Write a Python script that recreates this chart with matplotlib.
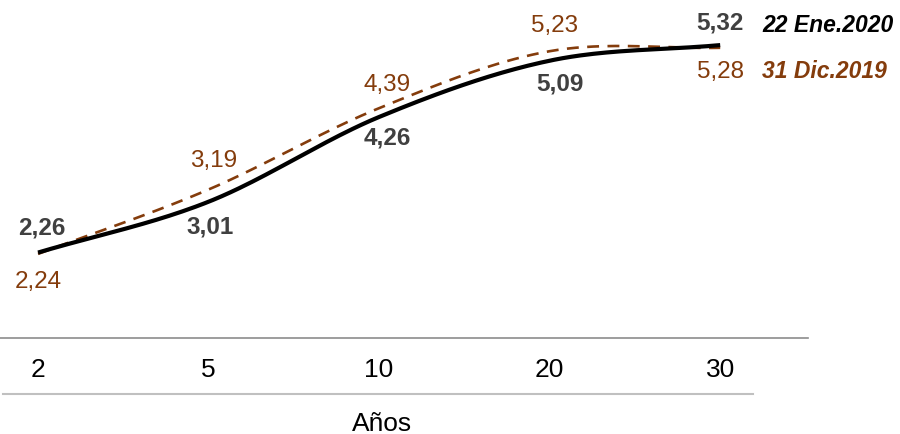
import numpy as np
import matplotlib
matplotlib.use("Agg")
import matplotlib.pyplot as plt
from matplotlib.lines import Line2D

plt.rcParams['font.family'] = ['Liberation Sans', 'DejaVu Sans']

plazos = ["2", "5", "10", "20", "30"]
ene2020 = [2.26, 3.01, 4.26, 5.09, 5.32]
dic2019 = [2.24, 3.19, 4.39, 5.23, 5.28]
serie_ene = "22 Ene.2020"
serie_dic = "31 Dic.2019"
eje_x = "Años"

BLACK = "#000000"
BLACK_LBL = "#404040"
BROWN = "#843C0C"


def smooth(xs, ys, n=40):
    xs = np.asarray(xs, float)
    ys = np.asarray(ys, float)
    P = np.column_stack([xs, ys])
    P = np.vstack([P[0] - (P[1] - P[0]), P, P[-1] + (P[-1] - P[-2])])
    out = []
    for i in range(1, len(P) - 2):
        p0, p1, p2, p3 = P[i - 1], P[i], P[i + 1], P[i + 2]
        c1 = p1 + (p2 - p0) / 6.0
        c2 = p2 - (p3 - p1) / 6.0
        t = np.linspace(0, 1, n)[:, None]
        seg = ((1 - t) ** 3) * p1 + 3 * ((1 - t) ** 2) * t * c1 + 3 * (1 - t) * t ** 2 * c2 + t ** 3 * p2
        out.append(seg if i == 1 else seg[1:])
    out = np.vstack(out)
    return out[:, 0], out[:, 1]


fig = plt.figure(figsize=(9, 4.35), dpi=100)
ax = fig.add_axes([0.0, 0.2207, 0.898, 0.7793])
x = np.arange(len(plazos))

sx, sy = smooth(x, dic2019)
ax.plot(sx, sy, color=BROWN, lw=1.9, ls=(0, (4.5, 3.2)), solid_capstyle='butt', zorder=2)
sx, sy = smooth(x, ene2020)
ax.plot(sx, sy, color=BLACK, lw=3.0, solid_capstyle='butt', zorder=3)

ax.set_xlim(-0.223, 4.516)
ax.set_ylim(1.0, 6.0)
ax.set_xticks(x)
ax.set_xticklabels(plazos, fontsize=19)
ax.tick_params(axis='x', length=0, pad=14)
ax.set_yticks([])
for s in ['top', 'right', 'left']:
    ax.spines[s].set_visible(False)
ax.spines['bottom'].set_color('#8c8c8c')
ax.spines['bottom'].set_linewidth(1.2)

# data labels: offsets in pixels (dx, dy), dy positive = up
off_ene = [(4, 26), (2, -24), (8, -20), (10, -22), (0, 23)]
off_dic = [(0, -27), (5, 30), (8, 24), (5, 26), (0, -23)]
px = 0.72
for i, v in enumerate(ene2020):
    ax.annotate(f"{v:.2f}".replace('.', ','), (x[i], v),
                xytext=(off_ene[i][0] * px, off_ene[i][1] * px), textcoords='offset points',
                ha='center', va='center', fontsize=17.5, fontweight='bold', color=BLACK_LBL,
                annotation_clip=False)
for i, v in enumerate(dic2019):
    ax.annotate(f"{v:.2f}".replace('.', ','), (x[i], v),
                xytext=(off_dic[i][0] * px, off_dic[i][1] * px), textcoords='offset points',
                ha='center', va='center', fontsize=17.5, color=BROWN,
                annotation_clip=False)

ax.annotate(serie_ene, (x[-1], ene2020[-1]), xytext=(42 * px, 21 * px), textcoords='offset points',
            ha='left', va='center', fontsize=16.5, fontweight='bold', style='italic', color=BLACK,
            annotation_clip=False)
ax.annotate(serie_dic, (x[-1], dic2019[-1]), xytext=(42 * px, -23 * px), textcoords='offset points',
            ha='left', va='center', fontsize=16.5, fontweight='bold', style='italic', color=BROWN,
            annotation_clip=False)

fig.add_artist(Line2D([3 / 900, 753 / 900], [1 - 395 / 435, 1 - 395 / 435],
                      color='#c0c0c0', lw=1.5, transform=fig.transFigure))
fig.text(382 / 900, 1 - 424 / 435, eje_x, ha='center', va='center', fontsize=19, color='#000000')

fig.savefig("out.png", dpi=100)
